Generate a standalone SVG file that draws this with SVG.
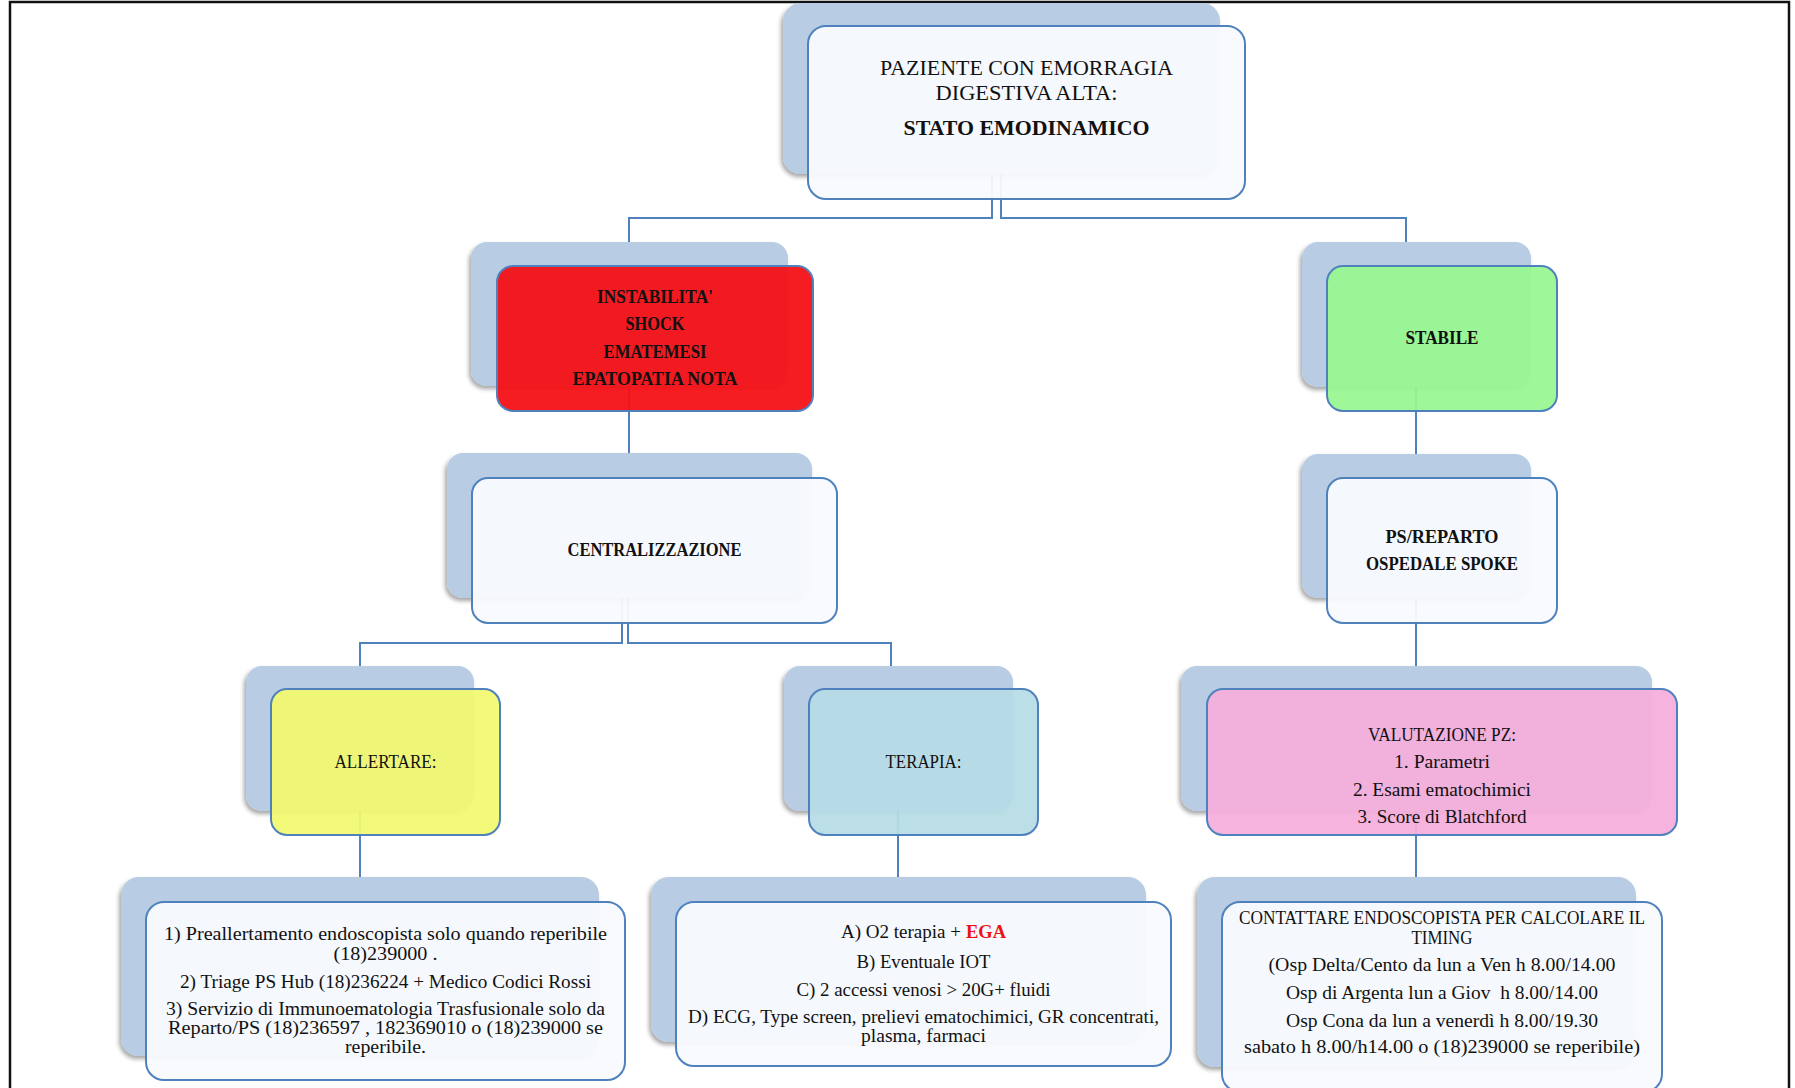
<svg xmlns="http://www.w3.org/2000/svg" width="1795" height="1088" viewBox="0 0 1795 1088">
<style>
  .sh { fill: #b8cce4; filter: url(#ds); }
  .nd { stroke: #4f81bd; stroke-width: 2; }
  .wh { fill: #f8fafd; fill-opacity: 0.95; }
  .red { fill: #f50f14; fill-opacity: 0.94; }
  .grn { fill: #98f890; fill-opacity: 0.94; }
  .yel { fill: #f2f970; fill-opacity: 0.94; }
  .tea { fill: #b7dce6; fill-opacity: 0.94; }
  .pnk { fill: #f5aedb; fill-opacity: 0.94; }
  .cn { fill: none; stroke: #4f81bd; stroke-width: 2; }
  text { font-family: "Liberation Serif", "Times New Roman", serif; fill: #111; text-anchor: middle; }
  .b { font-weight: bold; font-size: 18px; }
  .r { font-size: 18px; }
  .st { text-anchor: start; }
  .ega { fill: #ee1111; font-weight: bold; font-size: 19px; text-anchor: start; }
</style>
<defs>
  <filter id="ds" x="-5%" y="-5%" width="110%" height="115%">
    <feDropShadow dx="-2" dy="3" stdDeviation="2" flood-color="#000" flood-opacity="0.35"/>
  </filter>
</defs>
<rect x="10" y="2" width="1779" height="1100" fill="#fff" stroke="#111" stroke-width="2.5"/>
<g id="connectors">
  <path class="cn" d="M992,174 V218 H629 V242"/>
  <path class="cn" d="M1001,174 V218 H1406 V242"/>
  <path class="cn" d="M629,386 V453"/>
  <path class="cn" d="M1416,387 V454"/>
  <path class="cn" d="M622,598 V643 H360 V666"/>
  <path class="cn" d="M628,598 V643 H891 V666"/>
  <path class="cn" d="M1416,598 V666"/>
  <path class="cn" d="M360,811 V877"/>
  <path class="cn" d="M898,811 V877"/>
  <path class="cn" d="M1416,811 V877"/>
</g>
<g id="node-stato">
  <rect class="sh" x="783" y="3" width="437" height="171" rx="18"/>
  <rect class="nd wh" x="808" y="26" width="437" height="173" rx="18"/>
  <text x="1026.5" y="75" style="font-size:22px" textLength="293" lengthAdjust="spacingAndGlyphs">PAZIENTE CON EMORRAGIA</text>
  <text x="1026.5" y="100" style="font-size:22px" textLength="182" lengthAdjust="spacingAndGlyphs">DIGESTIVA ALTA:</text>
  <text x="1026.5" y="135" style="font-size:22px;font-weight:bold" textLength="246" lengthAdjust="spacingAndGlyphs">STATO EMODINAMICO</text>
</g>
<g id="node-instabilita">
  <rect class="sh" x="471" y="242" width="317" height="144" rx="16"/>
  <rect class="nd red" x="497" y="266" width="316" height="145" rx="16"/>
  <text class="b" x="655" y="303" textLength="116" lengthAdjust="spacingAndGlyphs">INSTABILITA'</text>
  <text class="b" x="655" y="330" textLength="59" lengthAdjust="spacingAndGlyphs">SHOCK</text>
  <text class="b" x="655" y="358" textLength="103" lengthAdjust="spacingAndGlyphs">EMATEMESI</text>
  <text class="b" x="655" y="385" textLength="165" lengthAdjust="spacingAndGlyphs">EPATOPATIA NOTA</text>
</g>
<g id="node-stabile">
  <rect class="sh" x="1302" y="242" width="229" height="145" rx="16"/>
  <rect class="nd grn" x="1327" y="266" width="230" height="145" rx="16"/>
  <text class="b" x="1442" y="344" textLength="73" lengthAdjust="spacingAndGlyphs">STABILE</text>
</g>
<g id="node-centralizzazione">
  <rect class="sh" x="447" y="453" width="365" height="145" rx="16"/>
  <rect class="nd wh" x="472" y="478" width="365" height="145" rx="16"/>
  <text class="b" x="654.5" y="556" textLength="174" lengthAdjust="spacingAndGlyphs">CENTRALIZZAZIONE</text>
</g>
<g id="node-ps">
  <rect class="sh" x="1302" y="454" width="229" height="144" rx="16"/>
  <rect class="nd wh" x="1327" y="478" width="230" height="145" rx="16"/>
  <text class="b" x="1442" y="543" textLength="113" lengthAdjust="spacingAndGlyphs">PS/REPARTO</text>
  <text class="b" x="1442" y="570" textLength="152" lengthAdjust="spacingAndGlyphs">OSPEDALE SPOKE</text>
</g>
<g id="node-allertare">
  <rect class="sh" x="246" y="666" width="228" height="145" rx="16"/>
  <rect class="nd yel" x="271" y="689" width="229" height="146" rx="16"/>
  <text class="r" x="385.5" y="768" textLength="102" lengthAdjust="spacingAndGlyphs">ALLERTARE:</text>
</g>
<g id="node-terapia">
  <rect class="sh" x="784" y="666" width="229" height="145" rx="16"/>
  <rect class="nd tea" x="809" y="689" width="229" height="146" rx="16"/>
  <text class="r" x="923.5" y="768" textLength="76" lengthAdjust="spacingAndGlyphs">TERAPIA:</text>
</g>
<g id="node-valutazione">
  <rect class="sh" x="1181" y="666" width="471" height="145" rx="16"/>
  <rect class="nd pnk" x="1207" y="689" width="470" height="146" rx="16"/>
  <text class="r" x="1442" y="741" textLength="148" lengthAdjust="spacingAndGlyphs">VALUTAZIONE PZ:</text>
  <text class="r" x="1442" y="768" textLength="96" lengthAdjust="spacingAndGlyphs">1. Parametri</text>
  <text class="r" x="1442" y="796" textLength="178" lengthAdjust="spacingAndGlyphs">2. Esami ematochimici</text>
  <text class="r" x="1442" y="823" textLength="169" lengthAdjust="spacingAndGlyphs">3. Score di Blatchford</text>
</g>
<g id="node-allertare-dettagli">
  <rect class="sh" x="121" y="877" width="478" height="179" rx="18"/>
  <rect class="nd wh" x="146" y="902" width="479" height="178" rx="18"/>
  <text class="r" x="385.5" y="940" textLength="443" lengthAdjust="spacingAndGlyphs">1) Preallertamento endoscopista solo quando reperibile</text>
  <text class="r" x="385.5" y="960" textLength="104" lengthAdjust="spacingAndGlyphs">(18)239000 .</text>
  <text class="r" x="385.5" y="988" textLength="411" lengthAdjust="spacingAndGlyphs">2) Triage PS Hub (18)236224 + Medico Codici Rossi</text>
  <text class="r" x="385.5" y="1015" textLength="439" lengthAdjust="spacingAndGlyphs">3) Servizio di Immunoematologia Trasfusionale solo da</text>
  <text class="r" x="385.5" y="1034" textLength="435" lengthAdjust="spacingAndGlyphs">Reparto/PS (18)236597 , 182369010 o (18)239000 se</text>
  <text class="r" x="385.5" y="1053" textLength="81" lengthAdjust="spacingAndGlyphs">reperibile.</text>
</g>
<g id="node-terapia-dettagli">
  <rect class="sh" x="651" y="877" width="495" height="165" rx="18"/>
  <rect class="nd wh" x="676" y="902" width="495" height="164" rx="18"/>
  <text class="r st" x="841" y="938" textLength="120" lengthAdjust="spacingAndGlyphs">A) O2 terapia +</text>
  <text class="ega" x="966" y="938" textLength="40" lengthAdjust="spacingAndGlyphs">EGA</text>
  <text class="r" x="923.5" y="968" textLength="134" lengthAdjust="spacingAndGlyphs">B) Eventuale IOT</text>
  <text class="r" x="923.5" y="996" textLength="254" lengthAdjust="spacingAndGlyphs">C) 2 accessi venosi &gt; 20G+ fluidi</text>
  <text class="r" x="923.5" y="1023" textLength="471" lengthAdjust="spacingAndGlyphs">D) ECG, Type screen, prelievi ematochimici, GR concentrati,</text>
  <text class="r" x="923.5" y="1042" textLength="125" lengthAdjust="spacingAndGlyphs">plasma, farmaci</text>
</g>
<g id="node-endoscopista">
  <rect class="sh" x="1197" y="877" width="439" height="190" rx="18"/>
  <rect class="nd wh" x="1222" y="902" width="440" height="190" rx="18"/>
  <text class="r" x="1442" y="924" textLength="406" lengthAdjust="spacingAndGlyphs">CONTATTARE ENDOSCOPISTA PER CALCOLARE IL</text>
  <text class="r" x="1442" y="944" textLength="61" lengthAdjust="spacingAndGlyphs">TIMING</text>
  <text class="r" x="1442" y="971" textLength="347" lengthAdjust="spacingAndGlyphs">(Osp Delta/Cento da lun a Ven h 8.00/14.00</text>
  <text class="r" x="1442" y="999" textLength="312" lengthAdjust="spacingAndGlyphs" xml:space="preserve">Osp di Argenta lun a Giov  h 8.00/14.00</text>
  <text class="r" x="1442" y="1027" textLength="312" lengthAdjust="spacingAndGlyphs">Osp Cona da lun a venerdì h 8.00/19.30</text>
  <text class="r" x="1442" y="1053" textLength="396" lengthAdjust="spacingAndGlyphs">sabato h 8.00/h14.00 o (18)239000 se reperibile)</text>
</g>
</svg>
